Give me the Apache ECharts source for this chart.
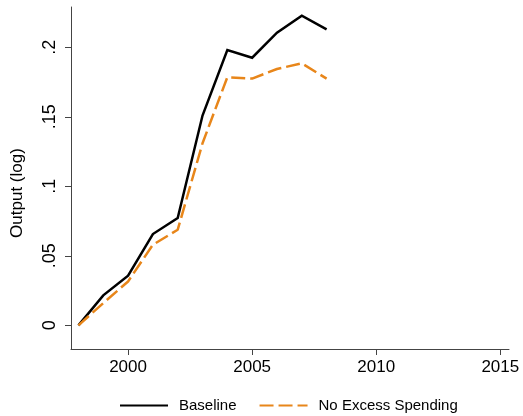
<!DOCTYPE html>
<html>
<head>
<meta charset="utf-8">
<script src="https://cdn.jsdelivr.net/npm/echarts@6/dist/echarts.min.js"></script>
<style>
  html, body { margin: 0; padding: 0; background: #fff; }
  #chart { width: 523px; height: 416px; }
</style>
</head>
<body>
<div id="chart"></div>
<script>
// Years simulated and output paths (log deviation from 1998)
var years = [1998, 1999, 2000, 2001, 2002, 2003, 2004, 2005, 2006, 2007, 2008];
var baseline = [0, 0.0216, 0.0357, 0.0657, 0.0772, 0.1509, 0.1980, 0.1925, 0.2105, 0.2227, 0.2129];
var noExcess = [0, 0.0160, 0.0316, 0.0580, 0.0688, 0.1310, 0.1785, 0.1775, 0.1844, 0.1885, 0.1775];

var xTicks = [2000, 2005, 2010, 2015];
var yTicks = [0, 0.05, 0.1, 0.15, 0.2];
var yTickText = ['0', '.05', '.1', '.15', '.2'];

var FONT = '"Liberation Sans", Arial, Helvetica, sans-serif';
var AXIS_COLOR = '#444';
var ORANGE = '#E8861A';

function pairs(xs, ys) {
  return xs.map(function (x, i) { return [x, ys[i]]; });
}

var chart = echarts.init(document.getElementById('chart'), null, { renderer: 'canvas' });

chart.setOption({
  animation: false,
  backgroundColor: '#fff',
  grid: { left: 71, top: 7, right: 14, bottom: 67, containLabel: false },
  xAxis: {
    type: 'value',
    min: 1997.7,
    max: 2015.35,
    splitLine: { show: false },
    axisLine: { show: true, onZero: false, lineStyle: { color: AXIS_COLOR, width: 1 } },
    axisTick: { show: true, length: 6, lineStyle: { color: AXIS_COLOR }, customValues: xTicks },
    axisLabel: {
      customValues: xTicks,
      color: '#000',
      fontFamily: FONT,
      fontSize: 17,
      margin: 10,
      formatter: function (v) { return String(Math.round(v)); }
    }
  },
  yAxis: {
    type: 'value',
    min: -0.017,
    max: 0.229,
    name: 'Output (log)',
    nameLocation: 'middle',
    nameRotate: 90,
    nameGap: 45,
    nameTextStyle: { color: '#000', fontFamily: FONT, fontSize: 17, padding: [0, 0, 0, -30] },
    splitLine: { show: false },
    axisLine: { show: true, onZero: false, lineStyle: { color: AXIS_COLOR, width: 1 } },
    axisTick: { show: true, length: 6, lineStyle: { color: AXIS_COLOR }, customValues: yTicks },
    axisLabel: {
      customValues: yTicks,
      rotate: 90,
      color: '#000',
      fontFamily: FONT,
      fontSize: 18,
      margin: 12,
      formatter: function (v) {
        var i = yTicks.findIndex(function (t) { return Math.abs(t - v) < 1e-9; });
        return i >= 0 ? yTickText[i] : '';
      }
    }
  },
  legend: {
    bottom: 3,
    left: 119,
    padding: 0,
    itemWidth: 48,
    itemHeight: 14,
    itemGap: 22,
    itemStyle: { opacity: 0 },
    textStyle: { color: '#000', fontFamily: FONT, fontSize: 15, padding: [0, 0, 0, 6] },
    data: ['Baseline', 'No Excess Spending']
  },
  series: [
    {
      name: 'Baseline',
      type: 'line',
      data: pairs(years, baseline),
      symbol: 'none',
      color: '#000',
      lineStyle: { color: '#000', width: 2.5, join: 'miter' }
    },
    {
      name: 'No Excess Spending',
      type: 'line',
      data: pairs(years, noExcess),
      symbol: 'none',
      color: ORANGE,
      lineStyle: { color: ORANGE, width: 2.5, type: [14, 5] }
    }
  ]
});
</script>
</body>
</html>
